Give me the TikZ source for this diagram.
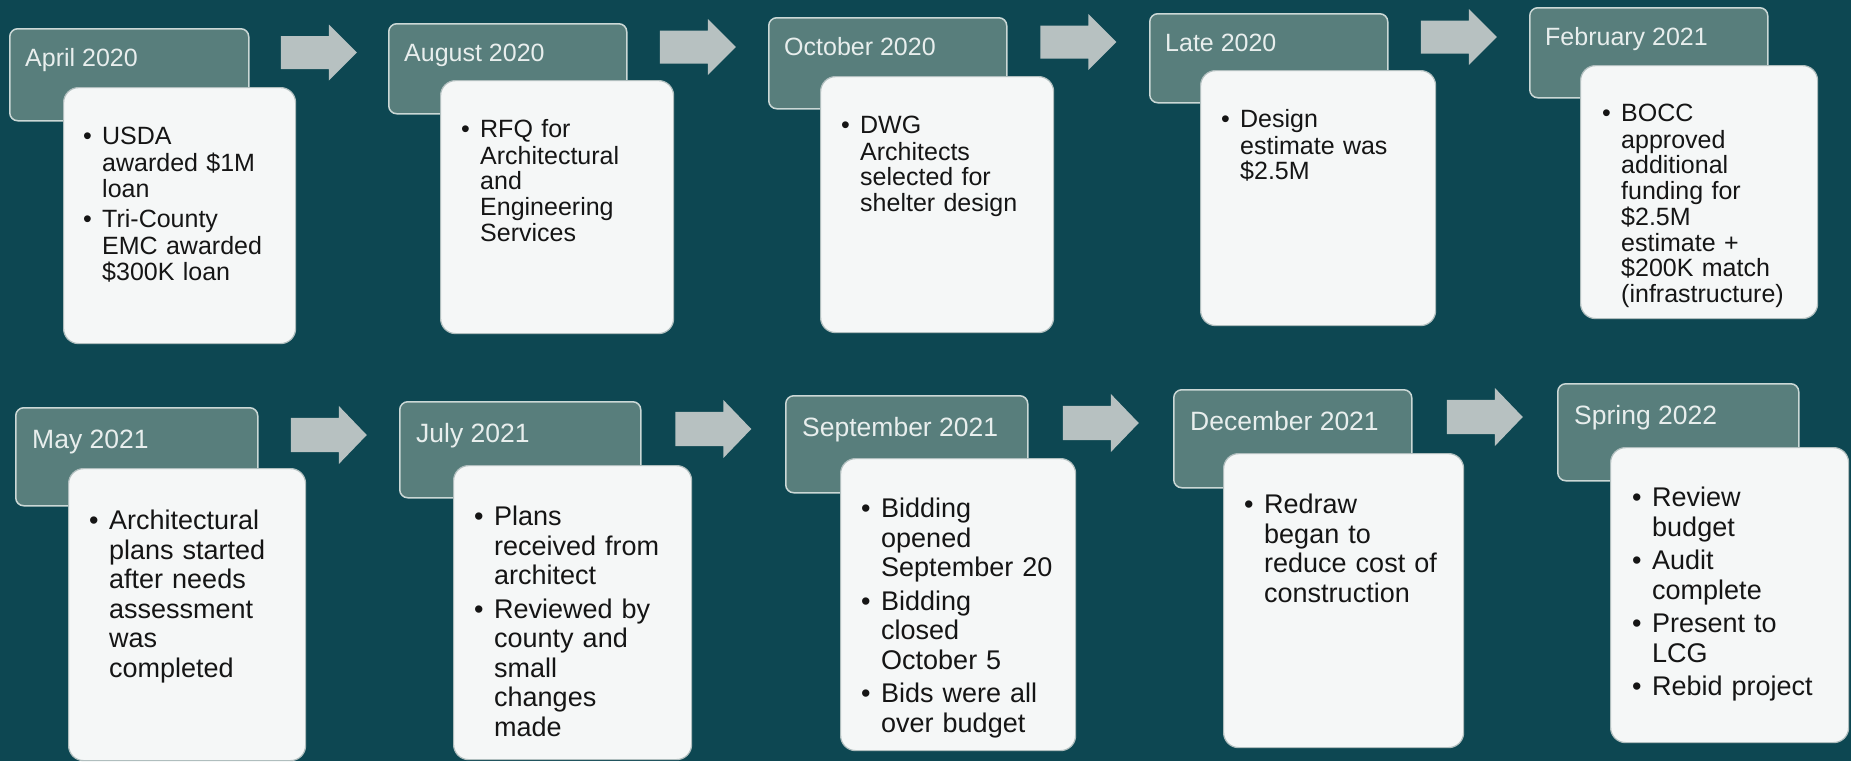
\documentclass[tikz,border=0pt]{standalone}
\usepackage{fontspec}
\setmainfont{Liberation Sans}
\usetikzlibrary{calc}

\definecolor{bgteal}{HTML}{0D4752}
\definecolor{hdrfill}{HTML}{587E7C}
\definecolor{hdredge}{HTML}{CBD8D6}
\definecolor{hdrtxt}{HTML}{E8EEED}
\definecolor{cardfill}{HTML}{F5F7F7}
\definecolor{cardedge}{HTML}{B0BEBE}
\definecolor{arrowgray}{HTML}{B7C1C1}
\definecolor{inktxt}{HTML}{151515}

% bulleted item with hanging indent; lines inside an item are broken by hand with \\
\newlength{\bulind}
\newcommand{\bul}[1]{\par\noindent\hangindent=\bulind\hangafter=1%
  \makebox[\bulind][l]{\textbullet}\strut{\let\\\newline #1}\par}

\tikzset{
  hdrbox/.style={draw=hdredge, line width=1.5pt, fill=hdrfill, rounded corners=8pt,
    anchor=north west, inner sep=0pt},
  hdrlabel/.style={text=hdrtxt, anchor=base west, inner sep=0pt},
  card/.style={draw=cardedge, line width=1.2pt, fill=cardfill, rounded corners=15pt,
    anchor=north west, inner sep=0pt},
  cardtext/.style={text=inktxt, anchor=north west, inner sep=0pt, text width=215pt, align=left},
  topfont/.style={font=\fontsize{25}{25.7}\selectfont\setlength{\parskip}{4.5pt}\setlength{\bulind}{19pt}},
  botfont/.style={font=\fontsize{27}{29.5}\selectfont\setlength{\parskip}{4pt}\setlength{\bulind}{20pt}},
  tophdrfont/.style={font=\fontsize{25}{30}\selectfont},
  bothdrfont/.style={font=\fontsize{26.5}{30}\selectfont},
  blockarrow/.pic={\fill[arrowgray] (-38,-16.5) -- (10,-16.5) -- (10,-28) -- (38,0)
    -- (10,28) -- (10,16.5) -- (-38,16.5) -- cycle;}
}

\begin{document}
\begin{tikzpicture}[x=1pt, y=-1pt]
\useasboundingbox (0,0) rectangle (1851,761);
\fill[bgteal] (0,0) rectangle (1851,761);

% ---------------- top row ----------------
\node[hdrbox, minimum width=239pt, minimum height=92pt] (h1) at (9,28) {};
\node[hdrlabel, tophdrfont] (h1t) at ([shift={(16,38)}]h1.north west) {April 2020};
\node[card, minimum width=232pt, minimum height=256pt] (c1) at (63,87) {};
\node[cardtext, topfont] (c1t) at ([shift={(20,27)}]c1.north west)
  {\bul{USDA\\awarded \$1M\\loan}\bul{Tri-County\\EMC awarded\\\$300K loan}};

\node[hdrbox, minimum width=238pt, minimum height=90pt] (h2) at (388,23) {};
\node[hdrlabel, tophdrfont] (h2t) at ([shift={(16,38)}]h2.north west) {August 2020};
\node[card, minimum width=233pt, minimum height=253pt] (c2) at (440,80) {};
\node[cardtext, topfont] (c2t) at ([shift={(21,27)}]c2.north west)
  {\bul{RFQ for\\Architectural\\and\\Engineering\\Services}};

\node[hdrbox, minimum width=238pt, minimum height=91pt] (h3) at (768,17) {};
\node[hdrlabel, tophdrfont] (h3t) at ([shift={(16,38)}]h3.north west) {October 2020};
\node[card, minimum width=233pt, minimum height=256pt] (c3) at (820,76) {};
\node[cardtext, topfont] (c3t) at ([shift={(21,27)}]c3.north west)
  {\bul{DWG\\Architects\\selected for\\shelter design}};

\node[hdrbox, minimum width=238pt, minimum height=89pt] (h4) at (1149,13) {};
\node[hdrlabel, tophdrfont] (h4t) at ([shift={(16,38)}]h4.north west) {Late 2020};
\node[card, minimum width=235pt, minimum height=255pt] (c4) at (1200,70) {};
\node[cardtext, topfont] (c4t) at ([shift={(21,27)}]c4.north west)
  {\bul{Design\\estimate was\\\$2.5M}};

\node[hdrbox, minimum width=238pt, minimum height=90pt] (h5) at (1529,7) {};
\node[hdrlabel, tophdrfont] (h5t) at ([shift={(16,38)}]h5.north west) {February 2021};
\node[card, minimum width=237pt, minimum height=253pt] (c5) at (1580,65) {};
\node[cardtext, topfont] (c5t) at ([shift={(22,26)}]c5.north west)
  {\bul{BOCC\\approved\\additional\\funding for\\\$2.5M\\estimate +\\\$200K match\\(infrastructure)}};

% ---------------- bottom row ----------------
\node[hdrbox, minimum width=242pt, minimum height=98pt] (h6) at (15,407) {};
\node[hdrlabel, bothdrfont] (h6t) at ([shift={(17,41)}]h6.north west) {May 2021};
\node[card, minimum width=237pt, minimum height=292pt] (c6) at (68,468) {};
\node[cardtext, botfont] (c6t) at ([shift={(21,28)}]c6.north west)
  {\bul{Architectural\\plans started\\after needs\\assessment\\was\\completed}};

\node[hdrbox, minimum width=241pt, minimum height=96pt] (h7) at (399,401) {};
\node[hdrlabel, bothdrfont] (h7t) at ([shift={(17,41)}]h7.north west) {July 2021};
\node[card, minimum width=238pt, minimum height=294pt] (c7) at (453,465) {};
\node[cardtext, botfont] (c7t) at ([shift={(21,27)}]c7.north west)
  {\bul{Plans\\received from\\architect}\bul{Reviewed by\\county and\\small\\changes\\made}};

\node[hdrbox, minimum width=242pt, minimum height=97pt] (h8) at (785,395) {};
\node[hdrlabel, bothdrfont] (h8t) at ([shift={(17,41)}]h8.north west) {September 2021};
\node[card, minimum width=235pt, minimum height=292pt] (c8) at (840,458) {};
\node[cardtext, botfont] (c8t) at ([shift={(21,26)}]c8.north west)
  {\bul{Bidding\\opened\\September 20}\bul{Bidding\\closed\\October 5}\bul{Bids were all\\over budget}};

\node[hdrbox, minimum width=238pt, minimum height=98pt] (h9) at (1173,389) {};
\node[hdrlabel, bothdrfont] (h9t) at ([shift={(17,41)}]h9.north west) {December 2021};
\node[card, minimum width=240pt, minimum height=294pt] (c9) at (1223,453) {};
\node[cardtext, botfont] (c9t) at ([shift={(21,27)}]c9.north west)
  {\bul{Redraw\\began to\\reduce cost of\\construction}};

\node[hdrbox, minimum width=241pt, minimum height=97pt] (h10) at (1557,383) {};
\node[hdrlabel, bothdrfont] (h10t) at ([shift={(17,41)}]h10.north west) {Spring 2022};
\node[card, minimum width=238pt, minimum height=295pt] (c10) at (1610,447) {};
\node[cardtext, botfont] (c10t) at ([shift={(22,26)}]c10.north west)
  {\bul{Review\\budget}\bul{Audit\\complete}\bul{Present to\\LCG}\bul{Rebid project}};

% ---------------- block arrows between the date headers ----------------
\foreach \a/\b in {h1/h2, h2/h3, h3/h4, h4/h5} {
  \path ($(\a.north east)!0.5!(\b.north west)$) ++(0,27) coordinate (ar-\a);
  \pic at (ar-\a) {blockarrow};
}
\foreach \a/\b in {h6/h7, h7/h8, h8/h9, h9/h10} {
  \path ($(\a.north east)!0.5!(\b.north west)$) ++(0,31) coordinate (ar-\a);
  \pic[yscale=1.04] at (ar-\a) {blockarrow};
}
\end{tikzpicture}
\end{document}
